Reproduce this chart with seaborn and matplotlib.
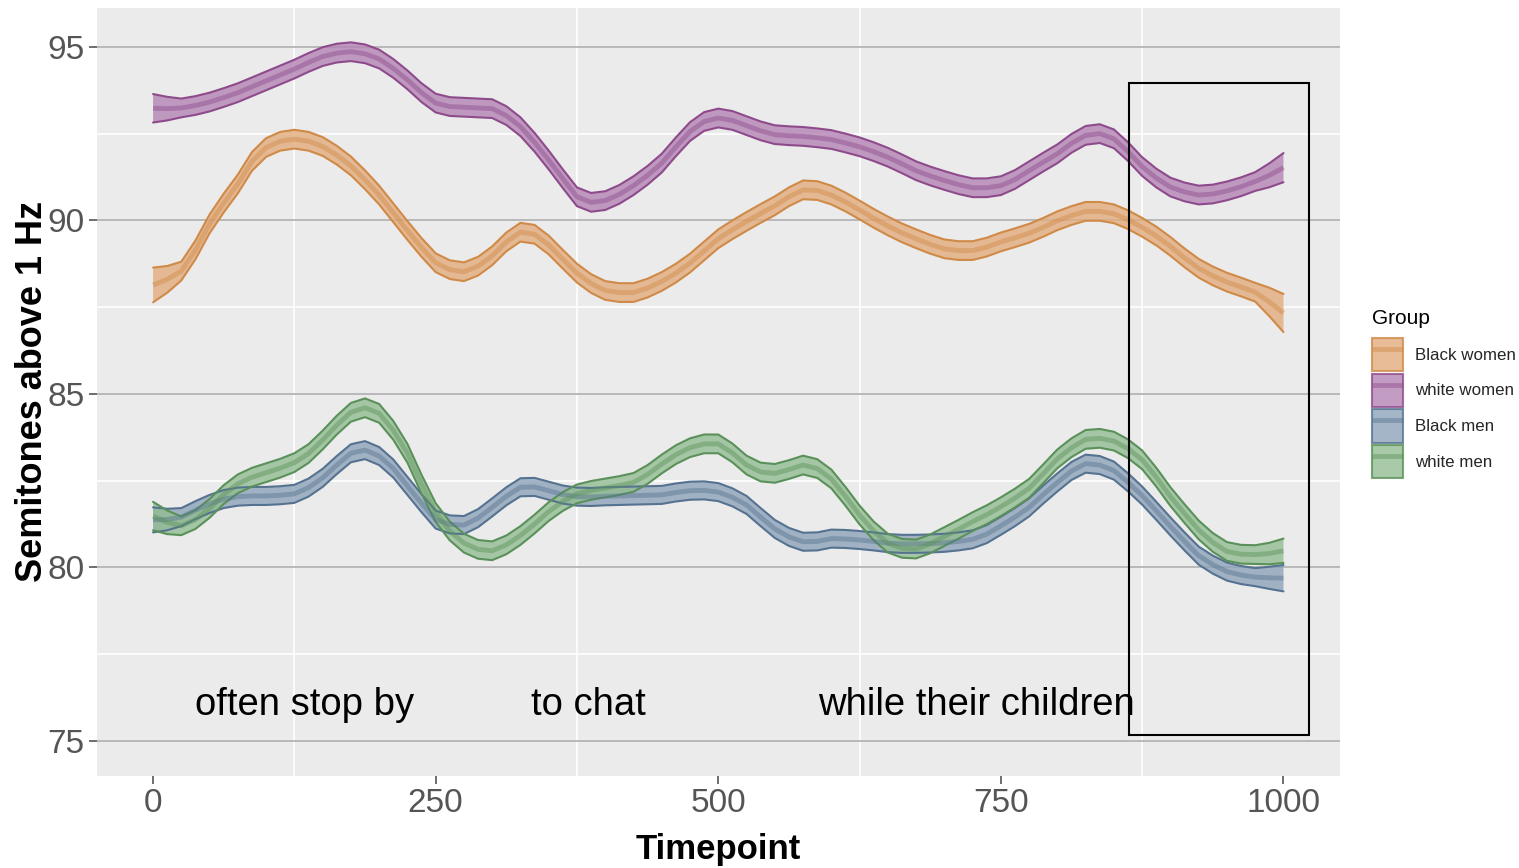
import numpy as np
import pandas as pd
import matplotlib
matplotlib.use("Agg")
import matplotlib.pyplot as plt
import seaborn as sns
from matplotlib.patches import Rectangle, Patch
from matplotlib.lines import Line2D
from matplotlib.ticker import FixedLocator

# ---------------- data ----------------
timepoints = [i * 12.5 for i in range(81)]
groups = ["Black women", "white women", "Black men", "white men"]

black_women = [88.14, 88.30, 88.54, 89.15, 89.90, 90.50, 91.05, 91.70, 92.10, 92.28,
               92.34, 92.28, 92.13, 91.88, 91.57, 91.17, 90.73, 90.22, 89.71, 89.22,
               88.78, 88.58, 88.52, 88.68, 88.98, 89.38, 89.66, 89.60, 89.29, 88.88,
               88.48, 88.18, 87.98, 87.92, 87.92, 88.05, 88.24, 88.48, 88.77, 89.12,
               89.47, 89.73, 89.97, 90.20, 90.42, 90.68, 90.88, 90.86, 90.73, 90.53,
               90.30, 90.06, 89.84, 89.64, 89.47, 89.31, 89.18, 89.13, 89.13, 89.23,
               89.38, 89.50, 89.63, 89.80, 89.99, 90.14, 90.26, 90.26, 90.19, 90.02,
               89.80, 89.55, 89.25, 88.92, 88.62, 88.40, 88.22, 88.08, 87.93, 87.65,
               87.33]
white_women = [93.23, 93.22, 93.24, 93.31, 93.41, 93.54, 93.68, 93.85, 94.02, 94.19,
               94.36, 94.55, 94.72, 94.82, 94.86, 94.80, 94.65, 94.38, 94.05, 93.68,
               93.38, 93.28, 93.26, 93.24, 93.22, 93.02, 92.70, 92.25, 91.74, 91.20,
               90.68, 90.52, 90.57, 90.75, 91.00, 91.30, 91.65, 92.12, 92.56, 92.85,
               92.95, 92.88, 92.73, 92.58, 92.47, 92.44, 92.42, 92.38, 92.33, 92.23,
               92.12, 91.98, 91.82, 91.63, 91.43, 91.28, 91.15, 91.03, 90.94, 90.94,
               91.00, 91.18, 91.43, 91.68, 91.92, 92.22, 92.45, 92.50, 92.35, 91.98,
               91.55, 91.22, 90.96, 90.82, 90.73, 90.76, 90.85, 90.97, 91.12, 91.30,
               91.52]
black_men = [81.37, 81.38, 81.45, 81.65, 81.83, 81.97, 82.04, 82.06, 82.06, 82.08,
             82.12, 82.30, 82.58, 82.95, 83.29, 83.38, 83.21, 82.85, 82.35, 81.85,
             81.38, 81.24, 81.22, 81.42, 81.73, 82.05, 82.31, 82.32, 82.21, 82.10,
             82.04, 82.03, 82.05, 82.06, 82.07, 82.08, 82.09, 82.16, 82.21, 82.22,
             82.17, 82.02, 81.80, 81.45, 81.11, 80.88, 80.74, 80.75, 80.83, 80.82,
             80.79, 80.75, 80.70, 80.68, 80.68, 80.69, 80.71, 80.75, 80.81, 80.96,
             81.20, 81.45, 81.73, 82.10, 82.45, 82.78, 82.99, 82.95, 82.79, 82.45,
             82.07, 81.63, 81.18, 80.75, 80.34, 80.08, 79.88, 79.78, 79.72, 79.70,
             79.69]
white_men = [81.48, 81.30, 81.20, 81.38, 81.70, 82.10, 82.41, 82.60, 82.73, 82.86,
             83.02, 83.28, 83.67, 84.10, 84.47, 84.60, 84.44, 83.95, 83.29, 82.40,
             81.58, 81.05, 80.70, 80.52, 80.48, 80.65, 80.92, 81.25, 81.61, 81.90,
             82.12, 82.22, 82.29, 82.36, 82.45, 82.68, 82.98, 83.25, 83.45, 83.56,
             83.56, 83.30, 82.95, 82.75, 82.71, 82.82, 82.95, 82.85, 82.55, 82.05,
             81.51, 81.05, 80.70, 80.55, 80.53, 80.68, 80.89, 81.10, 81.32, 81.52,
             81.75, 82.00, 82.28, 82.70, 83.13, 83.45, 83.69, 83.72, 83.64, 83.42,
             83.10, 82.60, 82.04, 81.55, 81.08, 80.72, 80.46, 80.38, 80.37, 80.40,
             80.48]

# confidence-band half widths (start, middle, end)
ci_start = {"Black women": 0.50, "white women": 0.41, "Black men": 0.36, "white men": 0.41}
ci_mid = {"Black women": 0.27, "white women": 0.27, "Black men": 0.26, "white men": 0.27}
ci_end = {"Black women": 0.55, "white women": 0.42, "Black men": 0.38, "white men": 0.35}

annot_words = ["often stop by", "to chat", "while their children"]
annot_x = [37, 334, 588]
annot_y = 76.05
box_x = [863, 1023]
box_y = [75.17, 93.96]

x_ticks = [0, 250, 500, 750, 1000]
y_ticks = [75, 80, 85, 90, 95]

# ---------------- styling ----------------
edge_col = {"Black women": "#D08A48", "white women": "#8E4B8C",
            "Black men": "#557391", "white men": "#5A915A"}
fill_col = {"Black women": "#E2AC7C", "white women": "#B583B4",
            "Black men": "#8EA3BA", "white men": "#93BD92"}

series = {"Black women": black_women, "white women": white_women,
          "Black men": black_men, "white men": white_men}

rows = []
for g in groups:
    n = len(timepoints)
    for i, (t, v) in enumerate(zip(timepoints, series[g])):
        if i == 0:
            h = ci_start[g]
        elif i == 1:
            h = (ci_start[g] + ci_mid[g]) / 2
        elif i == n - 1:
            h = ci_end[g]
        elif i == n - 2:
            h = (ci_end[g] + ci_mid[g]) / 2
        else:
            h = ci_mid[g]
        rows.append({"Timepoint": t, "Semitones": v, "Group": g,
                     "lo": v - h, "hi": v + h})
df = pd.DataFrame(rows)

sns.set_theme(style="darkgrid")
plt.rcParams["font.family"] = ["Liberation Sans", "DejaVu Sans"]

fig = plt.figure(figsize=(15.19, 8.68), dpi=100)
ax = fig.add_axes([97 / 1519, 1 - 776 / 868, (1340 - 97) / 1519, (776 - 8) / 868])
ax.set_facecolor("#EBEBEB")
fig.patch.set_facecolor("white")

# ribbons
for g in groups:
    d = df[df.Group == g]
    ax.fill_between(d.Timepoint, d.lo, d.hi, facecolor=fill_col[g], alpha=0.8,
                    edgecolor="none", zorder=3)
    ax.plot(d.Timepoint, d.lo, color=edge_col[g], lw=1.5, zorder=4)
    ax.plot(d.Timepoint, d.hi, color=edge_col[g], lw=1.5, zorder=4)

# centre lines through seaborn
sns.lineplot(data=df, x="Timepoint", y="Semitones", hue="Group", hue_order=groups,
             palette=edge_col, estimator=None, legend=False, lw=3.5, alpha=0.45,
             solid_capstyle="butt", ax=ax, zorder=5)

ax.set_xlim(-49.6, 1050)
ax.set_ylim(73.99, 96.12)
ax.xaxis.set_major_locator(FixedLocator(x_ticks))
ax.yaxis.set_major_locator(FixedLocator(y_ticks))
ax.xaxis.set_minor_locator(FixedLocator([125, 375, 625, 875]))
ax.yaxis.set_minor_locator(FixedLocator([77.5, 82.5, 87.5, 92.5]))
ax.grid(False)
ax.grid(which="major", axis="y", color="#B4B4B4", lw=1.3, zorder=1)
ax.grid(which="minor", axis="both", color="white", lw=1.2, zorder=1)
ax.set_axisbelow(True)
for s in ax.spines.values():
    s.set_visible(False)

ax.tick_params(axis="both", which="major", labelsize=24, labelcolor="#555555",
               color="#555555", length=6, width=1.2, pad=3, bottom=True, left=True)
ax.tick_params(axis="both", which="minor", length=0)

ax.set_xlabel("Timepoint", fontsize=25, fontweight="bold", color="black", labelpad=10)
ax.set_ylabel("Semitones above 1 Hz", fontsize=26, fontweight="bold", color="black",
              labelpad=-2)

for w, xx in zip(annot_words, annot_x):
    ax.text(xx, annot_y, w, fontsize=27.5, ha="left", va="center", color="black",
            zorder=6)

ax.add_patch(Rectangle((box_x[0], box_y[0]), box_x[1] - box_x[0], box_y[1] - box_y[0],
                       fill=False, edgecolor="black", lw=1.5, zorder=7))

handles = []
for g in groups:
    p = Patch(facecolor=fill_col[g], alpha=0.8, edgecolor=edge_col[g], lw=1.5)
    l = Line2D([0], [0], color=edge_col[g], lw=3.5, alpha=0.45, solid_capstyle="butt")
    handles.append((p, l))
fig.text(1372 / 1519, 1 - 318 / 868, "Group", fontsize=15, ha="left", va="center",
         color="black")
leg = fig.legend(handles, groups, loc="upper left",
                 bbox_to_anchor=(1372 / 1519, 1 - 338 / 868), frameon=False,
                 fontsize=12.2, handlelength=1.82,
                 handleheight=2.65, labelspacing=0.14, handletextpad=0.7,
                 borderpad=0, borderaxespad=0)

fig.savefig("out.png", dpi=100)
